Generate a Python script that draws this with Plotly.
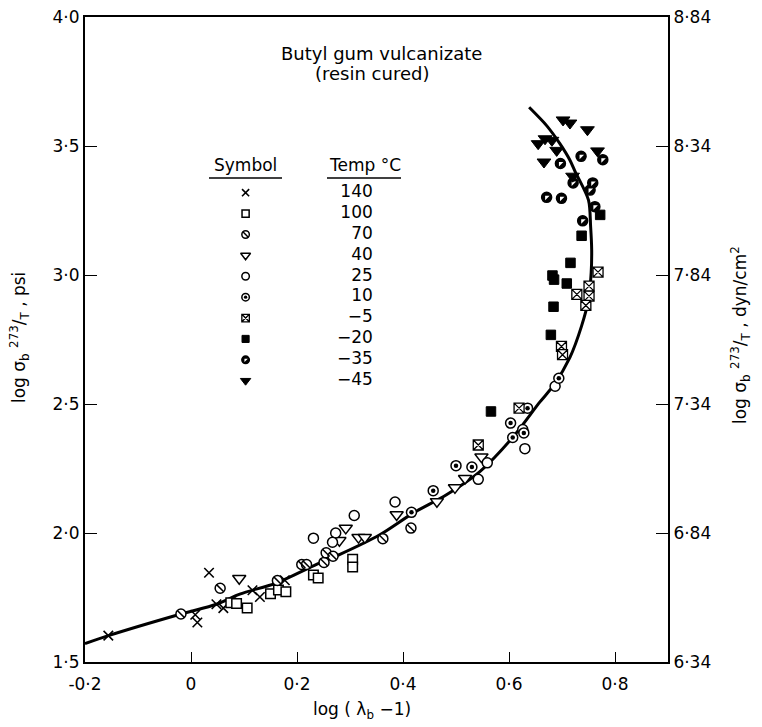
import plotly.graph_objects as go

# ---------------- data ----------------
temps = ["140", "100", "70", "40", "25", "10", "−5", "−20", "−35", "−45"]

x_140 = [-0.156, 0.008, 0.012, 0.034, 0.048, 0.061, 0.116, 0.130, 0.177]
y_140 = [1.602, 1.683, 1.653, 1.846, 1.724, 1.709, 1.778, 1.752, 1.817]

x_100 = [0.075, 0.086, 0.106, 0.150, 0.165, 0.179, 0.231, 0.240, 0.305, 0.305]
y_100 = [1.730, 1.727, 1.709, 1.765, 1.779, 1.772, 1.837, 1.826, 1.898, 1.868]

x_70 = [-0.019, 0.055, 0.163, 0.209, 0.218, 0.251, 0.255, 0.268, 0.362, 0.415]
y_70 = [1.686, 1.786, 1.816, 1.878, 1.878, 1.886, 1.923, 1.910, 1.978, 2.019]

x_40 = [0.091, 0.280, 0.292, 0.316, 0.328, 0.388, 0.464, 0.498, 0.517, 0.548]
y_40 = [1.824, 1.971, 2.019, 1.983, 1.983, 2.071, 2.122, 2.176, 2.212, 2.295]

x_25 = [0.231, 0.273, 0.267, 0.308, 0.385, 0.542, 0.559, 0.626, 0.630, 0.687]
y_25 = [1.980, 2.000, 1.964, 2.068, 2.120, 2.208, 2.272, 2.401, 2.327, 2.569]

x_10 = [0.416, 0.457, 0.500, 0.530, 0.603, 0.607, 0.628, 0.635, 0.694]
y_10 = [2.080, 2.164, 2.261, 2.256, 2.426, 2.370, 2.388, 2.484, 2.600]

x_m5 = [0.542, 0.619, 0.699, 0.701, 0.751, 0.751, 0.745, 0.728, 0.768]
y_m5 = [2.341, 2.484, 2.723, 2.691, 2.957, 2.918, 2.882, 2.925, 3.011]

x_m20 = [0.566, 0.679, 0.684, 0.682, 0.685, 0.709, 0.716, 0.737, 0.772]
y_m20 = [2.471, 2.768, 2.877, 2.998, 2.982, 2.967, 3.047, 3.152, 3.233]

x_m35 = [0.697, 0.736, 0.777, 0.721, 0.758, 0.753, 0.671, 0.699, 0.762, 0.739]
y_m35 = [3.432, 3.460, 3.447, 3.357, 3.357, 3.329, 3.301, 3.297, 3.265, 3.210]

x_m45 = [0.702, 0.715, 0.748, 0.655, 0.668, 0.681, 0.690, 0.666, 0.767, 0.720]
y_m45 = [3.601, 3.589, 3.563, 3.509, 3.528, 3.522, 3.483, 3.438, 3.481, 3.383]

curve_x = [-0.2, -0.156, -0.019, 0.048, 0.092, 0.162, 0.243, 0.281, 0.357, 0.419,
           0.482, 0.545, 0.608, 0.658, 0.684, 0.715, 0.737, 0.750, 0.755, 0.756,
           0.754, 0.750, 0.725, 0.715, 0.696, 0.671, 0.638]
curve_y = [1.571, 1.602, 1.686, 1.724, 1.763, 1.807, 1.884, 1.917, 1.994, 2.077,
           2.148, 2.238, 2.373, 2.507, 2.572, 2.681, 2.803, 2.905, 3.008, 3.098,
           3.188, 3.290, 3.400, 3.445, 3.509, 3.579, 3.650]

x_ticks = [-0.2, 0, 0.2, 0.4, 0.6, 0.8]
x_ticktext = ["-0·2", "0", "0·2", "0·4", "0·6", "0·8"]
y_ticks = [1.5, 2.0, 2.5, 3.0, 3.5, 4.0]
y_ticktext = ["1·5", "2·0", "2·5", "3·0", "3·5", "4·0"]
y2_ticks = [6.34, 6.84, 7.34, 7.84, 8.34, 8.84]
y2_ticktext = ["6·34", "6·84", "7·34", "7·84", "8·34", "8·84"]

series = [(x_140, y_140), (x_100, y_100), (x_70, y_70), (x_40, y_40), (x_25, y_25),
          (x_10, y_10), (x_m5, y_m5), (x_m20, y_m20), (x_m35, y_m35), (x_m45, y_m45)]

# ---------------- styles ----------------
FONT = "DejaVu Sans"
# layers: (symbol, fill, line colour, line width, size factor)
styles = [
    [("x-thin", "black", "black", 1.6, 0.95)],
    [("square", "white", "black", 1.5, 0.95)],
    [("circle", "white", "black", 1.5, 1.0), ("line-nw", "black", "black", 1.5, 0.72)],
    [("triangle-down", "white", "black", 1.5, 1.15)],
    [("circle", "white", "black", 1.5, 1.0)],
    [("circle", "white", "black", 1.5, 1.0), ("circle", "black", "black", 0, 0.45)],
    [("square-x", "white", "black", 1.3, 1.0)],
    [("square", "black", "black", 1, 0.95)],
    [("circle", "black", "black", 1.5, 1.0), ("triangle-nw", "white", "white", 0, 0.5)],
    [("triangle-down", "black", "black", 1, 1.2)],
]

fig = go.Figure()

# fitted curve
fig.add_trace(go.Scatter(x=curve_x, y=curve_y, mode="lines",
                         line=dict(color="black", width=3, shape="spline", smoothing=0.8),
                         hoverinfo="skip", showlegend=False))


def add_marks(xs, ys, layers, size, yaxis="y"):
    for sym, fill, lc, lw, f in layers:
        fig.add_trace(go.Scatter(
            x=xs, y=ys, mode="markers", yaxis=yaxis, showlegend=False, hoverinfo="skip",
            marker=dict(symbol=sym, size=size * f, color=fill,
                        line=dict(color=lc, width=lw))))


for (xs, ys), layers in zip(series, styles):
    add_marks(xs, ys, layers, 10)

# ---------------- in-plot legend table (rows on a hidden axis) ----------------
rows = list(range(len(temps)))
sym_col_x = 0.103
txt_col_x = 0.343
for r, layers in zip(rows, styles):
    add_marks([sym_col_x], [r], layers, 7.5, yaxis="y3")
fig.add_trace(go.Scatter(x=[txt_col_x] * len(temps), y=rows, mode="text", yaxis="y3",
                         text=temps, textposition="middle left",
                         textfont=dict(family=FONT, size=17, color="black"),
                         showlegend=False, hoverinfo="skip"))

# invisible trace to activate right axis
fig.add_trace(go.Scatter(x=[None], y=[None], yaxis="y2", showlegend=False))

# page is offset by the 8px default body margin
OFF = 8
W, H = 754, 719
ML, MR, MT, MB = 77, 94, 9, 65
PW, PH = W - ML - MR, H - MT - MB
PLOT_L = OFF + ML
PLOT_T = OFF + MT
PLOT_B = OFF + H - MB


def px2paper_x(p):
    return (p - PLOT_L) / PW


def px2paper_y(p):
    return (PLOT_B - p) / PH


# legend rows: row 0 at 192.7px, row 9 at 380.7px (page pixels)
r0_px, r9_px = 192.7, 380.7
span = 9 * PH / (r9_px - r0_px)
top_val = -(r0_px - PLOT_T) / PH * span
y3_range = [top_val + span, top_val]

axis_common = dict(showgrid=False, zeroline=False, showline=True, linecolor="black",
                   linewidth=2, ticks="inside", tickcolor="black", tickwidth=1.2,
                   automargin=False, ticklabeloverflow="allow",
                   tickfont=dict(family=FONT, size=17, color="black"))

fig.update_layout(
    width=W, height=H,
    margin=dict(l=ML, r=MR, t=MT, b=MB, autoexpand=False),
    paper_bgcolor="white", plot_bgcolor="white",
    xaxis=dict(range=[-0.2, 0.9], tickvals=x_ticks, ticktext=x_ticktext,
               ticklen=10, mirror=True, ticklabelstandoff=6, **axis_common),
    yaxis=dict(range=[1.5, 4.0], tickvals=y_ticks, ticktext=y_ticktext,
               ticklen=12, **axis_common),
    yaxis2=dict(range=[6.34, 8.84], tickvals=y2_ticks, ticktext=y2_ticktext,
                overlaying="y", side="right", ticklen=12, **axis_common),
    yaxis3=dict(range=y3_range, overlaying="y", visible=False, automargin=False),
    showlegend=False,
)


def ann(text, x, y, xanchor="center", angle=0, size=17):
    return dict(text=text, x=px2paper_x(x), y=px2paper_y(y), xref="paper", yref="paper",
                showarrow=False, xanchor=xanchor, yanchor="middle", textangle=angle,
                font=dict(family=FONT, size=size, color="black"))


annotations = [
    ann("Butyl gum vulcanizate", 381, 53, size=18),
    ann("(resin cured)", 372, 73, size=18),
    ann("Symbol", 245.5, 165),
    ann("Temp °C", 327, 165, xanchor="left"),
    ann("log ( λ<sub>b</sub> −1)", 362, 710),
    ann("log σ<sub>b</sub> <sup>273</sup>/<sub>T</sub> , psi", 20, 338, angle=-90),
    ann("log σ<sub>b</sub> <sup>273</sup>/<sub>T</sub> , dyn/cm<sup>2</sup>", 740, 335, angle=-90),
]
fig.update_layout(annotations=annotations)

shapes = [
    dict(type="line", xref="paper", yref="paper", x0=px2paper_x(209), x1=px2paper_x(282),
         y0=px2paper_y(178), y1=px2paper_y(178), line=dict(color="black", width=1.5)),
    dict(type="line", xref="paper", yref="paper", x0=px2paper_x(327), x1=px2paper_x(401),
         y0=px2paper_y(178), y1=px2paper_y(178), line=dict(color="black", width=1.5)),
]
fig.update_layout(shapes=shapes)

fig.write_html("out.html")
